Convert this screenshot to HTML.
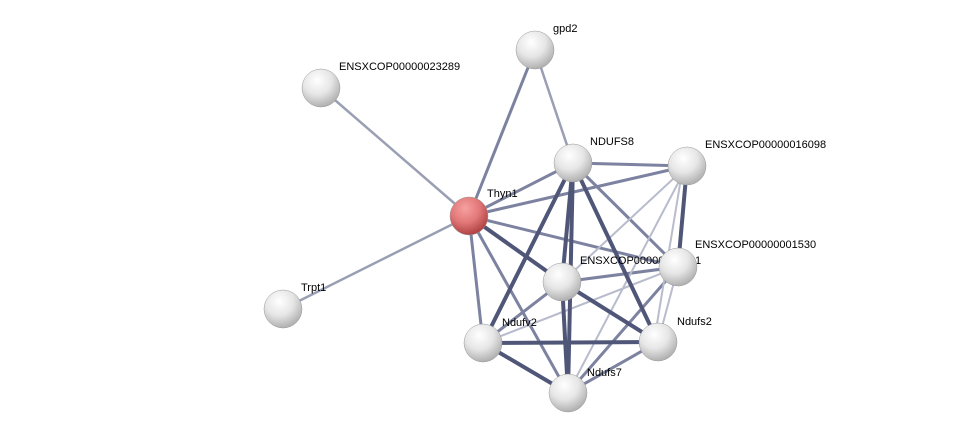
<!DOCTYPE html>
<html><head><meta charset="utf-8"><style>
html,body{margin:0;padding:0;background:#fff;width:975px;height:439px;overflow:hidden}
text{font-family:"Liberation Sans",sans-serif;font-size:11px;fill:#000}
</style></head><body>
<svg width="975" height="439" viewBox="0 0 975 439" xmlns="http://www.w3.org/2000/svg">
<defs>
<radialGradient id="g" cx="0.4" cy="0.3" r="0.75">
<stop offset="0" stop-color="#ffffff"/><stop offset="0.5" stop-color="#e6e6e6"/><stop offset="1" stop-color="#a8a8a8"/></radialGradient>
<radialGradient id="r" cx="0.4" cy="0.3" r="0.75">
<stop offset="0" stop-color="#f6a0a0"/><stop offset="0.5" stop-color="#e27878"/><stop offset="1" stop-color="#a83a3a"/></radialGradient>
</defs>
<g stroke-linecap="round">
<g stroke="#9a9fb4" stroke-width="2.5">
<line x1="469" y1="216" x2="321" y2="88"/>
<line x1="469" y1="216" x2="283" y2="309"/>
<line x1="535" y1="50" x2="573" y2="163"/>
</g>
<g stroke="#7c82a0" stroke-width="3">
<line x1="469" y1="216" x2="535" y2="50"/>
<line x1="469" y1="216" x2="573" y2="163"/>
<line x1="469" y1="216" x2="687" y2="166"/>
<line x1="469" y1="216" x2="678" y2="267"/>
<line x1="469" y1="216" x2="483" y2="343"/>
<line x1="469" y1="216" x2="568" y2="393"/>
<line x1="573" y1="163" x2="687" y2="166"/>
<line x1="573" y1="163" x2="678" y2="267"/>
<line x1="678" y1="267" x2="562" y2="282"/>
<line x1="678" y1="267" x2="568" y2="393"/>
<line x1="562" y1="282" x2="483" y2="343"/>
<line x1="658" y1="342" x2="568" y2="393"/>
</g>
<g stroke="#b8bccc" stroke-width="2">
<line x1="687" y1="166" x2="562" y2="282"/>
<line x1="687" y1="166" x2="568" y2="393"/>
<line x1="683" y1="166" x2="654" y2="342"/>
<line x1="678" y1="267" x2="483" y2="343"/>
<line x1="678" y1="267" x2="658" y2="342"/>
</g>
<g stroke="#4f5678" stroke-width="4">
<line x1="469" y1="216" x2="562" y2="282"/>
<line x1="573" y1="163" x2="562" y2="282"/>
<line x1="573" y1="163" x2="483" y2="343"/>
<line x1="573" y1="163" x2="568" y2="393"/>
<line x1="573" y1="163" x2="658" y2="342"/>
<line x1="687" y1="166" x2="678" y2="267"/>
<line x1="562" y1="282" x2="568" y2="393"/>
<line x1="562" y1="282" x2="658" y2="342"/>
<line x1="483" y1="343" x2="658" y2="342"/>
<line x1="483" y1="343" x2="568" y2="393"/>
</g>
</g>
<text x="553" y="32">gpd2</text>
<text x="339" y="70">ENSXCOP00000023289</text>
<text x="590" y="145">NDUFS8</text>
<text x="705" y="148">ENSXCOP00000016098</text>
<text x="487" y="197">Thyn1</text>
<text x="695" y="248">ENSXCOP00000001530</text>
<text x="580" y="264">ENSXCOP00000015531</text>
<text x="301" y="291">Trpt1</text>
<text x="502" y="326">Ndufv2</text>
<text x="677" y="325">Ndufs2</text>
<text x="587" y="376">Ndufs7</text>
<g stroke="#999" stroke-width="0.5">
<circle cx="535" cy="50" r="19" fill="url(#g)"/>
<circle cx="321" cy="88" r="19" fill="url(#g)"/>
<circle cx="573" cy="163" r="19" fill="url(#g)"/>
<circle cx="687" cy="166" r="19" fill="url(#g)"/>
<circle cx="469" cy="216" r="19" fill="url(#r)"/>
<circle cx="678" cy="267" r="19" fill="url(#g)"/>
<circle cx="283" cy="309" r="19" fill="url(#g)"/>
<circle cx="562" cy="282" r="19" fill="url(#g)"/>
<circle cx="483" cy="343" r="19" fill="url(#g)"/>
<circle cx="658" cy="342" r="19" fill="url(#g)"/>
<circle cx="568" cy="393" r="19" fill="url(#g)"/>
</g>
</svg>
</body></html>
